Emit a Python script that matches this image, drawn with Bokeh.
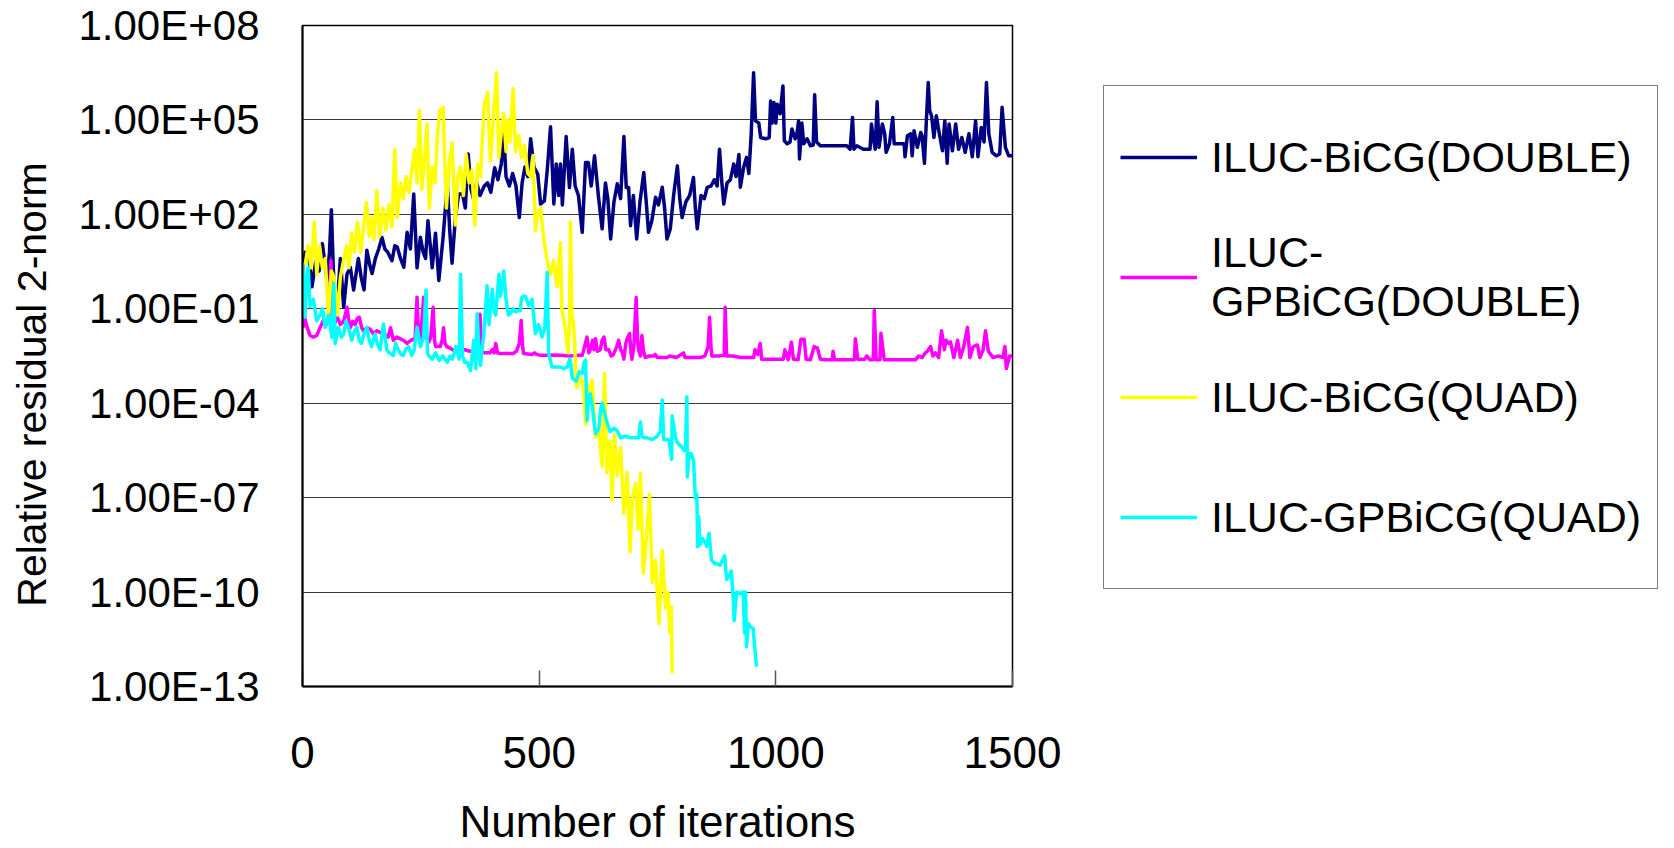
from bokeh.plotting import figure
from bokeh.layouts import row
from bokeh.models import Range1d, FixedTicker, CustomJSTickFormatter, Legend, LegendItem, ColumnDataSource
from bokeh.embed import file_html
from bokeh.resources import INLINE

# ---------------- data (residuals given as log10) ----------------
bicg_double_iter = [1, 6, 13, 20, 28, 35, 42, 52, 57, 61, 65, 70, 75, 80, 87, 94, 101, 108, 118, 124,
                    130, 136, 142, 147, 154, 161, 168, 174, 180, 189, 195, 200, 207, 214, 221, 228, 235, 242, 249, 255,
                    260, 265, 270, 274, 281, 288, 297, 306, 311, 316, 323, 330, 338, 344, 350, 356, 361, 368, 375, 384,
                    391, 398, 406, 413, 420, 425, 430, 437, 444, 451, 458, 464, 470, 476, 482, 489, 497, 503, 511, 517,
                    524, 531, 536, 541, 545, 549, 557, 564, 570, 576, 583, 591, 598, 604, 610, 617, 625, 633, 640, 645,
                    651, 658, 665, 672, 679, 684, 689, 693, 699, 706, 713, 721, 726, 731, 738, 746, 752, 760, 765, 770,
                    777, 784, 792, 797, 802, 810, 818, 826, 830, 834, 842, 849, 855, 863, 870, 876, 881, 886, 890, 897,
                    904, 911, 916, 922, 925, 932, 938, 943, 948, 953, 957, 964, 968, 979, 986, 989, 992, 996, 1000, 1003,
                    1009, 1015, 1018, 1024, 1030, 1034, 1041, 1045, 1048, 1050, 1055, 1059, 1066, 1073, 1079, 1082, 1086, 1094, 1150, 1157,
                    1162, 1165, 1171, 1185, 1199, 1202, 1206, 1210, 1214, 1218, 1225, 1230, 1233, 1240, 1247, 1250, 1271, 1273, 1278, 1285,
                    1288, 1292, 1299, 1306, 1309, 1314, 1318, 1322, 1325, 1329, 1334, 1339, 1345, 1352, 1357, 1362, 1366, 1373, 1380, 1386,
                    1393, 1400, 1408, 1415, 1422, 1427, 1434, 1440, 1445, 1450, 1457, 1466, 1473, 1478, 1485, 1492, 1500]
bicg_double_log10 = [0.3, 0.8, 0.76, -0.3, 0.5, 0.2, 1.07, -0.1, 0.8, 2.15, 0.3, -1.15, -0.5, 0.6, -0.95, 0.1, 0.32, -0.4, 0.6, 0.0,
                     -0.4, 0.86, 0.4, 0.12, 0.6, 0.9, 1.27, 0.9, 0.8, 0.53, 1.0, 0.97, 0.6, 0.32, 1.43, 0.9, 2.65, 0.3, 1.27, 0.8,
                     0.6, 1.8, 1.0, 0.3, 1.4, -0.1, 1.27, 2.96, 1.5, 0.45, 1.9, 2.65, 2.65, 2.2, 3.92, 2.8, 2.5, 3.0, 2.6, 2.9,
                     3.0, 2.7, 3.48, 3.1, 3.6, 4.6, 3.2, 2.9, 3.3, 2.9, 1.9, 3.0, 3.5, 3.2, 4.4, 3.5, 3.28, 2.33, 2.43, 3.4,
                     4.78, 2.33, 3.6, 2.6, 3.6, 2.3, 4.47, 2.85, 4.07, 2.9, 2.6, 1.43, 3.65, 3.65, 2.9, 3.86, 2.6, 1.54, 3.0, 2.5,
                     1.22, 2.4, 2.97, 2.5, 4.47, 2.85, 2.85, 1.64, 2.6, 1.22, 2.4, 3.33, 2.43, 1.43, 1.8, 2.54, 2.3, 2.86, 2.2, 1.22,
                     1.54, 2.6, 3.54, 2.5, 1.9, 2.4, 2.6, 3.17, 2.2, 1.54, 2.6, 2.5, 2.86, 2.9, 3.1, 2.9, 4.07, 3.0, 2.33, 3.0,
                     3.1, 3.6, 3.2, 3.9, 2.86, 3.5, 3.81, 3.3, 4.56, 6.5, 4.97, 4.9, 4.44, 4.4, 4.44, 5.6, 4.9, 5.55, 4.9, 5.5,
                     5.2, 6.08, 4.34, 4.24, 4.3, 4.71, 4.4, 4.6, 4.97, 3.76, 4.9, 4.24, 4.4, 4.18, 4.2, 5.8, 4.3, 4.18, 4.18, 4.07,
                     5.08, 4.07, 4.18, 4.07, 4.07, 4.87, 4.4, 4.07, 5.58, 4.13, 4.87, 4.56, 3.97, 4.24, 5.08, 4.24, 4.24, 3.83, 4.5, 4.56,
                     3.86, 4.66, 4.13, 4.6, 4.5, 3.62, 4.97, 6.19, 5.3, 5.13, 4.44, 5.13, 4.6, 4.02, 4.97, 3.62, 4.87, 4.02, 4.87, 4.07,
                     4.44, 3.97, 4.56, 3.83, 4.97, 3.83, 4.76, 4.3, 6.19, 4.56, 3.97, 3.86, 3.92, 5.4, 4.13, 3.86, 3.86]

gpbicg_double_iter = [1, 5, 10, 16, 23, 30, 37, 44, 50, 55, 60, 63, 67, 73, 80, 87, 94, 97, 101, 106,
                      111, 116, 120, 125, 129, 136, 143, 150, 157, 164, 172, 181, 186, 192, 199, 206, 213, 221, 229, 238,
                      242, 245, 249, 256, 259, 262, 267, 271, 276, 279, 281, 291, 295, 298, 301, 305, 312, 319, 326, 333,
                      343, 354, 365, 372, 375, 378, 381, 389, 396, 401, 405, 408, 412, 417, 430, 445, 452, 458, 462, 465,
                      467, 485, 490, 495, 503, 517, 530, 545, 566, 580, 591, 596, 601, 605, 608, 613, 616, 619, 623, 629,
                      633, 637, 641, 647, 652, 657, 664, 668, 672, 676, 679, 683, 686, 691, 694, 696, 700, 705, 708, 710,
                      714, 717, 720, 724, 733, 742, 745, 750, 770, 776, 790, 805, 808, 826, 840, 850, 857, 860, 863, 865,
                      880, 891, 893, 896, 910, 925, 940, 953, 956, 962, 967, 970, 981, 1000, 1016, 1019, 1026, 1033, 1037, 1047,
                      1053, 1060, 1064, 1073, 1081, 1088, 1094, 1104, 1119, 1121, 1124, 1158, 1166, 1168, 1173, 1188, 1192, 1199, 1206, 1208,
                      1212, 1220, 1222, 1229, 1295, 1302, 1309, 1316, 1320, 1327, 1332, 1337, 1344, 1350, 1356, 1360, 1365, 1369, 1376, 1384,
                      1390, 1397, 1405, 1410, 1417, 1426, 1431, 1438, 1443, 1449, 1459, 1470, 1480, 1484, 1487, 1494, 1500]
gpbicg_double_log10 = [-1.6, -1.3, -1.6, -1.85, -1.9, -1.85, -1.6, -1.37, -1.5, -1.4, 0.53, -1.2, -1.5, -1.25, -1.5, -1.4, -0.95, -1.3, -1.6, -1.4,
                       -1.5, -1.3, -1.27, -1.6, -1.7, -1.6, -1.65, -1.8, -1.7, -1.75, -1.8, -1.9, -1.6, -2.0, -1.9, -1.95, -2.0, -2.1, -2.0, -1.95,
                       -0.63, -1.9, -2.0, -0.63, -1.7, -1.9, -2.05, -1.9, -0.95, -2.0, -2.2, -2.2, -2.0, -1.6, -2.1, -2.2, -2.25, -2.32, -2.25, -2.3,
                       -2.3, -2.35, -2.35, -2.3, -1.17, -2.3, -2.4, -2.4, -2.4, -2.3, -2.4, -2.1, -2.4, -2.42, -2.42, -2.42, -2.35, -2.1, -1.37, -2.2,
                       -2.42, -2.45, -2.4, -2.45, -2.48, -2.48, -2.47, -2.48, -2.5, -2.48, -2.48, -2.2, -1.9, -2.4, -2.3, -2.0, -2.3, -1.95, -2.35, -2.3,
                       -2.0, -1.9, -2.3, -2.3, -2.5, -2.45, -2.2, -2.0, -2.3, -2.4, -2.6, -2.1, -1.95, -1.79, -2.4, -2.6, -2.2, -0.64, -2.0, -2.3,
                       -2.5, -1.85, -2.3, -2.55, -2.5, -2.5, -2.45, -2.55, -2.55, -2.5, -2.55, -2.4, -2.55, -2.55, -2.55, -2.5, -2.2, -1.27, -2.2, -2.5,
                       -2.5, -2.48, -0.95, -2.5, -2.5, -2.55, -2.55, -2.55, -2.3, -2.45, -2.1, -2.6, -2.6, -2.6, -2.6, -2.3, -2.62, -2.06, -2.6, -2.62,
                       -1.97, -1.97, -2.6, -2.62, -2.2, -2.25, -2.6, -2.62, -2.62, -2.35, -2.62, -2.62, -2.62, -1.95, -2.6, -2.6, -2.5, -2.62, -2.62, -1.05,
                       -2.62, -2.62, -1.78, -2.62, -2.62, -2.5, -2.55, -2.4, -2.35, -2.2, -2.5, -2.4, -2.55, -1.7, -2.3, -2.0, -2.1, -2.05, -2.55, -2.0,
                       -2.55, -2.2, -1.59, -2.55, -2.2, -2.15, -2.55, -2.3, -1.7, -2.35, -2.55, -2.5, -2.55, -2.2, -2.9, -2.5, -2.5]

bicg_quad_iter = [1, 6, 12, 18, 25, 30, 36, 42, 48, 55, 61, 67, 74, 80, 85, 93, 98, 104, 110, 116,
                  123, 129, 135, 141, 146, 151, 157, 163, 170, 176, 183, 189, 195, 200, 207, 213, 219, 225, 231, 237,
                  242, 247, 252, 258, 263, 268, 274, 280, 285, 290, 297, 304, 310, 316, 323, 328, 334, 340, 346, 352,
                  358, 364, 370, 376, 384, 391, 397, 403, 410, 415, 420, 425, 430, 433, 438, 445, 450, 457, 463, 469,
                  476, 482, 487, 492, 497, 503, 510, 517, 524, 531, 538, 545, 548, 555, 561, 564, 566, 569, 573, 579,
                  585, 591, 595, 598, 605, 612, 619, 626, 633, 638, 643, 650, 654, 659, 665, 672, 679, 686, 692, 697,
                  704, 709, 714, 720, 728, 733, 739, 746, 753, 760, 767, 772, 776, 779, 781]
bicg_quad_log10 = [0.4, 0.43, 1.0, 0.3, 1.75, 0.1, 1.0, 0.3, 0.6, -1.27, 0.2, 0.0, -1.2, 0.0, 0.4, 1.0, 0.3, 1.4, 0.8, 1.75,
                   0.8, 1.6, 2.38, 1.3, 1.9, 1.2, 2.75, 1.3, 2.2, 1.5, 2.3, 1.6, 4.07, 1.9, 3.0, 2.5, 3.2, 2.7, 3.4, 4.07,
                   3.0, 5.3, 2.8, 3.8, 4.87, 2.2, 3.5, 3.0, 4.5, 5.3, 5.4, 2.2, 3.6, 4.27, 1.66, 3.2, 3.5, 2.6, 3.9, 3.0,
                   3.4, 1.66, 3.6, 3.2, 5.5, 5.87, 3.7, 5.0, 6.5, 3.8, 4.6, 5.2, 4.0, 5.0, 4.3, 5.99, 4.0, 4.5, 3.8, 4.2,
                   3.3, 3.2, 3.87, 1.48, 2.0, 2.2, 1.17, 0.53, 0.1, 0.53, -0.3, 1.1, -1.05, -1.59, -2.4, -1.5, 1.76, -1.2, -1.5, -3.5,
                   -3.2, -3.28, -3.9, -4.65, -3.59, -3.28, -5.07, -4.9, -6.0, -3.05, -6.2, -5.2, -7.08, -5.0, -6.3, -5.4, -7.5, -6.2, -8.72, -7.0,
                   -6.55, -8.0, -6.23, -9.4, -8.0, -6.9, -9.7, -9.0, -11.0, -8.67, -10.5, -10.0, -11.3, -10.47, -12.57]

gpbicg_quad_iter = [1, 5, 9, 12, 16, 23, 30, 37, 42, 48, 55, 62, 66, 69, 76, 82, 87, 92, 97, 104,
                    110, 115, 120, 125, 130, 136, 141, 146, 153, 158, 164, 171, 178, 183, 192, 197, 202, 208, 213, 218,
                    224, 231, 236, 242, 249, 256, 261, 264, 267, 274, 281, 289, 296, 301, 306, 312, 317, 324, 331, 334,
                    338, 343, 348, 355, 359, 362, 366, 369, 373, 376, 380, 383, 387, 390, 394, 398, 401, 405, 408, 412,
                    415, 418, 422, 425, 430, 435, 439, 445, 450, 455, 460, 463, 467, 471, 478, 485, 492, 499, 506, 512,
                    517, 520, 527, 535, 545, 552, 559, 565, 570, 578, 585, 591, 595, 598, 601, 605, 608, 613, 619, 626,
                    630, 633, 638, 643, 650, 657, 664, 672, 682, 693, 704, 710, 714, 717, 721, 728, 739, 745, 749, 756,
                    760, 763, 774, 780, 781, 786, 790, 795, 802, 806, 809, 812, 813, 817, 821, 826, 830, 833, 835, 837,
                    840, 845, 850, 854, 859, 864, 871, 876, 882, 887, 892, 896, 901, 906, 910, 912, 917, 924, 931, 934,
                    936, 938, 942, 945, 952, 959]
gpbicg_quad_log10 = [0.43, -1.27, 0.0, 0.32, -0.93, -0.7, -1.38, -1.2, -1.0, -1.59, -1.2, -1.9, -0.2, -2.1, -1.6, -1.9, -1.8, -1.4, -1.6, -2.0,
                     -1.7, -1.6, -2.0, -2.1, -1.8, -1.59, -2.0, -2.2, -1.8, -2.1, -2.3, -1.48, -2.3, -2.4, -2.48, -2.1, -2.3, -2.45, -2.48, -2.3,
                     -2.2, -2.48, -2.3, -1.59, -2.2, -1.9, -0.4, -2.4, -2.5, -2.6, -2.4, -2.64, -2.5, -2.6, -2.7, -2.5, -2.6, -2.2, -2.6, 0.1,
                     -2.5, -2.7, -2.7, -2.96, -2.4, -2.0, -2.9, -1.16, -2.4, -2.8, -2.2, -1.8, -0.95, -0.27, -1.5, -0.8, -0.38, -1.1, -1.2, -0.5,
                     0.1, -0.6, -0.3, 0.2, -0.7, -1.2, -1.15, -1.0, -1.1, -1.06, -1.06, -0.65, -0.6, -0.6, -0.9, -0.7, -1.79, -1.5, -1.9, -1.6,
                     0.16, -2.42, -2.85, -2.85, -2.85, -2.9, -2.85, -2.6, -3.2, -3.3, -3.0, -3.05, -2.7, -2.64, -4.55, -3.8, -3.7, -4.2, -4.96, -4.8,
                     -4.2, -4.0, -4.3, -4.6, -4.9, -4.8, -4.85, -5.1, -5.05, -5.1, -5.1, -5.1, -4.6, -5.05, -5.1, -5.1, -5.15, -5.1, -5.05, -4.9,
                     -3.9, -5.15, -5.15, -5.78, -4.4, -4.9, -5.2, -5.3, -5.4, -5.5, -5.5, -3.8, -6.34, -5.6, -5.6, -5.8, -7.02, -6.9, -8.56, -7.6,
                     -8.5, -8.3, -8.4, -8.55, -8.13, -8.98, -9.1, -9.1, -9.15, -9.0, -8.85, -9.6, -9.5, -9.33, -10.2, -10.9, -10.0, -10.05, -10.0, -11.3,
                     -10.0, -11.74, -11.0, -11.1, -11.15, -12.37]

series_labels = ["ILUC-BiCG(DOUBLE)", "ILUC-\nGPBiCG(DOUBLE)", "ILUC-BiCG(QUAD)", "ILUC-GPBiCG(QUAD)"]
x_ticks = [0, 500, 1000, 1500]
y_tick_exponents = [-13, -10, -7, -4, -1, 2, 5, 8]
colors = ["#000080", "#FF00FF", "#FFFF00", "#00FFFF"]

# ---------------- main chart ----------------
p = figure(width=1070, height=848, output_backend="svg", toolbar_location=None,
           x_range=Range1d(0, 1500), y_range=Range1d(1e-13, 1e8), y_axis_type="log",
           min_border_left=302, min_border_right=58, min_border_top=25, min_border_bottom=161)
p.background_fill_color = "white"
p.border_fill_color = "white"
p.outline_line_color = "black"
p.outline_line_width = 1.5

p.xgrid.visible = False
p.ygrid.grid_line_color = "#3a3a3a"
p.ygrid.grid_line_width = 1.2

p.xaxis.ticker = FixedTicker(ticks=x_ticks)
p.yaxis.ticker = FixedTicker(ticks=[10.0 ** e for e in y_tick_exponents])
p.yaxis.formatter = CustomJSTickFormatter(code="""
const e = Math.round(Math.log10(tick));
const s = (e < 0 ? "-" : "+") + String(Math.abs(e)).padStart(2, "0");
return "1.00E" + s;
""")

for ax in (p.xaxis, p.yaxis):
    ax.axis_line_color = "black"
    ax.axis_line_width = 2
    ax.minor_tick_line_color = None
    ax.major_label_text_color = "black"
    ax.major_label_text_font = "Liberation Sans"
    ax.axis_label_text_font = "Liberation Sans"
    ax.axis_label_text_font_style = "normal"
    ax.axis_label_text_color = "black"

p.yaxis.major_tick_in = 0
p.yaxis.major_tick_out = 0
p.yaxis.major_label_text_font_size = "42px"
p.yaxis.major_label_standoff = 43
# trailing no-break spaces shift the centred title towards the bottom, as in the original
p.yaxis.axis_label = "Relative residual 2-norm" + "\u00a0" * 5
p.yaxis.axis_label_text_font_size = "41px"
p.yaxis.axis_label_standoff = 20

p.xaxis.major_tick_in = 16
p.xaxis.major_tick_out = 0
p.xaxis.major_tick_line_color = "#555555"
p.xaxis.major_tick_line_width = 1.5
p.xaxis.major_label_text_font_size = "44px"
p.xaxis.major_label_standoff = 50
p.xaxis.axis_label = "Number of iterations"
p.xaxis.axis_label_text_font_size = "44px"
p.xaxis.axis_label_standoff = 26

series = [(bicg_double_iter, bicg_double_log10),
          (gpbicg_double_iter, gpbicg_double_log10),
          (bicg_quad_iter, bicg_quad_log10),
          (gpbicg_quad_iter, gpbicg_quad_log10)]

for (it, lg), c in zip(series, colors):
    src = ColumnDataSource(dict(x=it, y=[10.0 ** v for v in lg]))
    p.line("x", "y", source=src, line_color=c, line_width=3.5, line_join="round")

# ---------------- legend panel (to the right of the chart) ----------------
q = figure(width=604, height=848, output_backend="svg", toolbar_location=None,
           x_range=Range1d(0, 1), y_range=Range1d(0, 1), min_border=0,
           x_axis_location=None, y_axis_location=None)
q.grid.visible = False
q.outline_line_color = None
q.background_fill_color = "white"
q.border_fill_color = "white"

legend_renderers = []
for c in colors:
    # key-only renderers: a single missing point, nothing is drawn in the panel itself
    src = ColumnDataSource(dict(x=[float("nan")], y=[float("nan")]))
    legend_renderers.append(q.line("x", "y", source=src, line_color=c, line_width=3.5))

items = [LegendItem(label=lab, renderers=[r]) for lab, r in zip(series_labels, legend_renderers)]
legend = Legend(items=items, location=(33, 97),
                glyph_width=77, glyph_height=20, label_standoff=14,
                label_height=110, spacing=10, padding=16, margin=0,
                border_line_color="black", border_line_width=1.2,
                background_fill_color="white", background_fill_alpha=1.0,
                label_text_font="Liberation Sans", label_text_font_size="43px",
                label_text_line_height=1.22, label_text_color="black")
q.add_layout(legend, "center")

layout = row(p, q, spacing=0)
open("out.html", "w").write(file_html(layout, INLINE))
